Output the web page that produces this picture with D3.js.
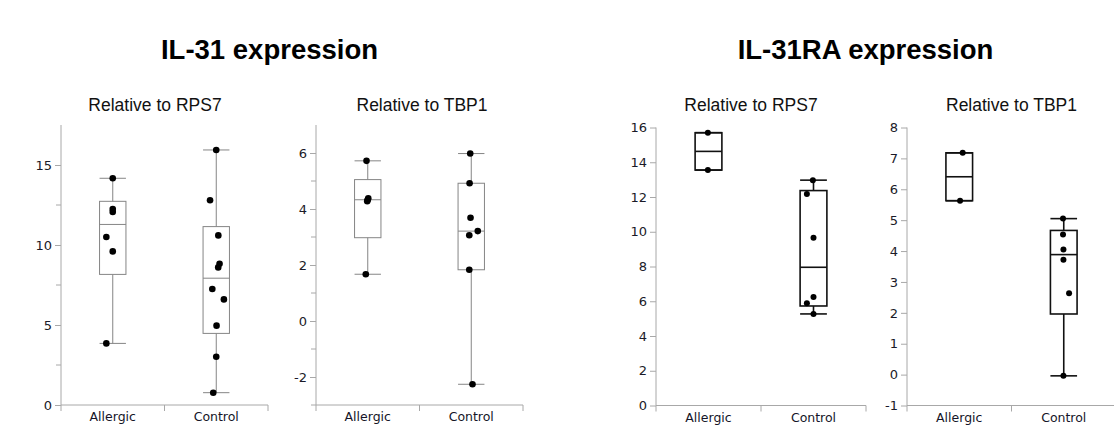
<!DOCTYPE html>
<html><head><meta charset="utf-8">
<script src="https://cdn.jsdelivr.net/npm/d3@7"></script>
<style>
html,body{margin:0;padding:0;background:#fff;}
svg{display:block;}
</style></head>
<body>
<svg id="chart" width="1114" height="444"></svg>
<script>
// ---------- DATA ----------
const categories = ["Allergic", "Control"];
const mainTitles = ["IL-31 expression", "IL-31RA expression"];
const panelTitles = ["Relative to RPS7", "Relative to TBP1", "Relative to RPS7", "Relative to TBP1"];

// IL-31 relative to RPS7
const il31Rps7Allergic = [14.17, 12.25, 12.07, 10.5, 9.6, 3.85];
const il31Rps7Control  = [15.94, 12.8, 10.6, 8.83, 8.6, 7.25, 6.6, 4.96, 3.02, 0.77];
// IL-31 relative to TBP1
const il31Tbp1Allergic = [5.72, 4.38, 4.33, 4.28, 1.67];
const il31Tbp1Control  = [5.98, 4.92, 3.69, 3.21, 3.06, 1.83, -2.26];
// IL-31RA relative to RPS7
const il31raRps7Allergic = [15.7, 13.55];
const il31raRps7Control  = [12.97, 12.17, 9.66, 6.25, 5.88, 5.27];
// IL-31RA relative to TBP1
const il31raTbp1Allergic = [7.18, 5.63];
const il31raTbp1Control  = [5.05, 4.54, 4.05, 3.72, 2.63, -0.04];

// horizontal jitter of each point, as a fraction of the category band
const il31Rps7AllergicJit = [0, 0, 0, -0.062, 0, -0.062];
const il31Rps7ControlJit  = [0, -0.06, 0.02, 0.032, 0.019, -0.038, 0.074, 0.003, 0, -0.029];
const il31Tbp1AllergicJit = [-0.012, 0.005, 0, -0.005, -0.019];
const il31Tbp1ControlJit  = [-0.01, -0.016, -0.007, 0.063, -0.019, -0.019, 0.012];
const il31raRps7AllergicJit = [-0.006, -0.006];
const il31raRps7ControlJit  = [-0.006, -0.063, 0, 0, -0.063, 0];
const il31raTbp1AllergicJit = [0.033, 0.008];
const il31raTbp1ControlJit  = [-0.007, -0.007, -0.003, -0.003, 0.051, -0.003];

// tick values
const ticks1 = [0, 5, 10, 15];        const minor1 = [2.5, 7.5, 12.5];
const ticks2 = [-2, 0, 2, 4, 6];      const minor2 = [-3, -1, 1, 3, 5];
const ticks3 = [0, 2, 4, 6, 8, 10, 12, 14, 16];
const ticks4 = [-1, 0, 1, 2, 3, 4, 5, 6, 7, 8];

// ---------- LAYOUT ----------
const panels = [
  {title: panelTitles[0], data: [il31Rps7Allergic, il31Rps7Control], jit: [il31Rps7AllergicJit, il31Rps7ControlJit],
   x0: 61, x1: 268, yTop: 125, yBot: 405, domain: [0, 17.5], ticks: ticks1, minor: minor1, titleX: 155,
   boxColor: "#858585", boxWidth: 1, r: 3.3},
  {title: panelTitles[1], data: [il31Tbp1Allergic, il31Tbp1Control], jit: [il31Tbp1AllergicJit, il31Tbp1ControlJit],
   x0: 316, x1: 523, yTop: 125, yBot: 405, domain: [-3, 7], ticks: ticks2, minor: minor2, titleX: 422,
   boxColor: "#858585", boxWidth: 1, r: 3.3},
  {title: panelTitles[2], data: [il31raRps7Allergic, il31raRps7Control], jit: [il31raRps7AllergicJit, il31raRps7ControlJit],
   x0: 656, x1: 866, yTop: 127.5, yBot: 405.5, domain: [0, 16], ticks: ticks3, minor: [], titleX: 751,
   boxColor: "#111", boxWidth: 1.6, r: 3},
  {title: panelTitles[3], data: [il31raTbp1Allergic, il31raTbp1Control], jit: [il31raTbp1AllergicJit, il31raTbp1ControlJit],
   x0: 907, x1: 1116, yTop: 127.5, yBot: 405.5, domain: [-1, 8], ticks: ticks4, minor: [], titleX: 1011.5,
   boxColor: "#111", boxWidth: 1.6, r: 3}
];

const axisColor = "#a8a8a8";
const svg = d3.select("#chart");

// main titles
svg.selectAll("text.main").data(mainTitles).join("text")
  .attr("class", "main")
  .attr("x", (d, i) => i === 0 ? 269.5 : 865.5)
  .attr("y", 59)
  .attr("text-anchor", "middle")
  .attr("font-family", "Liberation Sans, Arial, sans-serif")
  .attr("font-weight", "bold")
  .attr("font-size", "27.5px")
  .attr("fill", "#000")
  .text(d => d);

// quantile with (n+1)p rule
function q(sorted, p) {
  const n = sorted.length;
  let pos = (n + 1) * p;
  if (pos <= 1) return sorted[0];
  if (pos >= n) return sorted[n - 1];
  const lo = Math.floor(pos), f = pos - lo;
  return sorted[lo - 1] + f * (sorted[lo] - sorted[lo - 1]);
}

panels.forEach(P => {
  const g = svg.append("g");
  const y = d3.scaleLinear().domain(P.domain).range([P.yBot, P.yTop]);
  const x = d3.scaleBand().domain(categories).range([P.x0, P.x1]).padding(0);
  const bw = x.bandwidth();
  const boxW = bw * 0.255;

  // subtitle
  g.append("text").attr("x", P.titleX).attr("y", 111)
    .attr("text-anchor", "middle")
    .attr("font-family", "Liberation Sans, Arial, sans-serif")
    .attr("font-size", "17.5px").attr("fill", "#111")
    .text(P.title);

  // y axis
  const ya = g.append("g").attr("transform", `translate(${P.x0},0)`)
    .call(d3.axisLeft(y).tickValues(P.ticks).tickSize(6).tickPadding(3).tickFormat(d => String(d)));
  ya.select(".domain").attr("stroke", axisColor).attr("d", `M0,${P.yBot}V${P.yTop}`);
  ya.selectAll(".tick line").attr("stroke", axisColor);
  ya.selectAll(".tick text").attr("font-family", "DejaVu Sans, sans-serif")
    .attr("font-size", "13px").attr("fill", "#1a1a28");
  // minor ticks
  g.selectAll("line.minor").data(P.minor).join("line")
    .attr("x1", P.x0 - 5).attr("x2", P.x0)
    .attr("y1", d => y(d)).attr("y2", d => y(d))
    .attr("stroke", axisColor);

  // x axis
  g.append("line").attr("x1", P.x0).attr("x2", P.x1).attr("y1", P.yBot).attr("y2", P.yBot)
    .attr("stroke", axisColor);
  const bounds = [P.x0, P.x0 + bw, P.x1];
  g.selectAll("line.xt").data(bounds).join("line")
    .attr("x1", d => d).attr("x2", d => d).attr("y1", P.yBot).attr("y2", P.yBot + 6)
    .attr("stroke", axisColor);
  g.selectAll("text.cat").data(categories).join("text")
    .attr("x", d => x(d) + bw / 2).attr("y", P.yBot + 16)
    .attr("text-anchor", "middle")
    .attr("font-family", "DejaVu Sans, sans-serif")
    .attr("font-size", "12.5px").attr("fill", "#151528")
    .text(d => d);

  // boxes
  categories.forEach((c, ci) => {
    const vals = P.data[ci];
    const s = vals.slice().sort((a, b) => a - b);
    const q1 = q(s, 0.25), med = q(s, 0.5), q3 = q(s, 0.75);
    const iqr = q3 - q1;
    const lo = d3.min(s.filter(v => v >= q1 - 1.5 * iqr));
    const hi = d3.max(s.filter(v => v <= q3 + 1.5 * iqr));
    const cx = x(c) + bw / 2;
    const st = sel => sel.attr("stroke", P.boxColor).attr("stroke-width", P.boxWidth).attr("fill", "none");
    // whiskers
    g.append("line").attr("x1", cx).attr("x2", cx).attr("y1", y(hi)).attr("y2", y(q3)).call(st);
    g.append("line").attr("x1", cx).attr("x2", cx).attr("y1", y(q1)).attr("y2", y(lo)).call(st);
    [hi, lo].forEach(v => g.append("line").attr("x1", cx - boxW / 2).attr("x2", cx + boxW / 2)
      .attr("y1", y(v)).attr("y2", y(v)).call(st));
    // box
    g.append("rect").attr("x", cx - boxW / 2).attr("width", boxW)
      .attr("y", y(q3)).attr("height", y(q1) - y(q3)).call(st);
    g.append("line").attr("x1", cx - boxW / 2).attr("x2", cx + boxW / 2)
      .attr("y1", y(med)).attr("y2", y(med)).call(st);
    // points
    g.selectAll(null).data(vals).join("circle")
      .attr("cx", (d, i) => cx + P.jit[ci][i] * bw)
      .attr("cy", d => y(d))
      .attr("r", P.r).attr("fill", "#000");
  });
});
</script>
</body></html>
